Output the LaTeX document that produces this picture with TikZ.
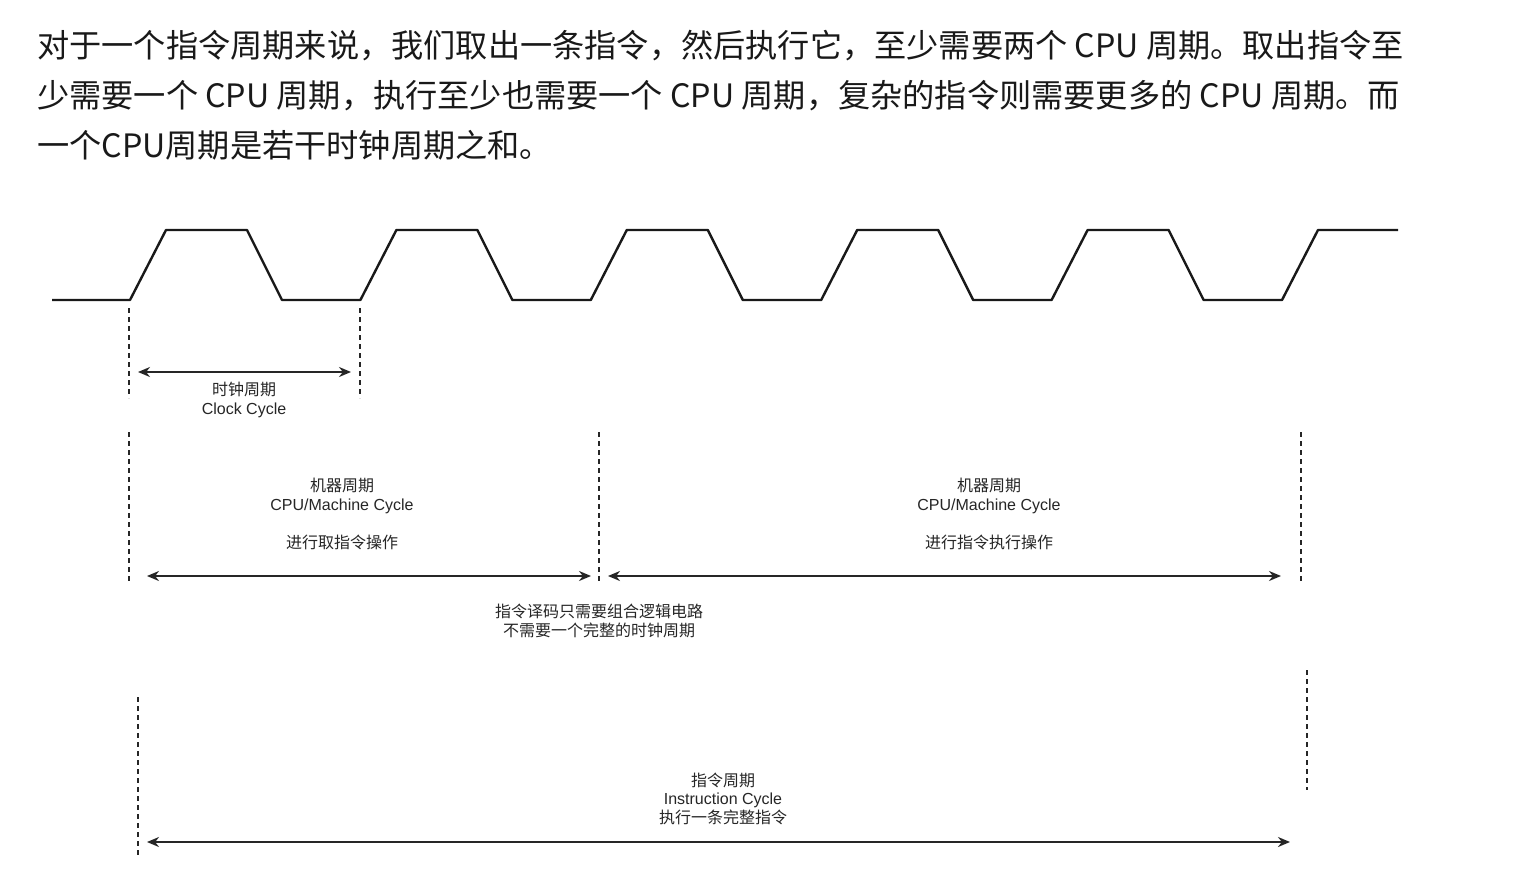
\documentclass[tikz,border=0pt]{standalone}
\usepackage{fontspec}
\setmainfont{Noto Sans CJK SC}
\newfontfamily\latf{Liberation Sans}
\usetikzlibrary{arrows.meta}
\tikzset{
  wave/.style={line width=2.4pt, line join=round, black!90},
  guide/.style={line width=1.9pt, black!85, dash pattern=on 5pt off 4pt},
  span/.style={line width=1.9pt, black!85, {Stealth[length=12pt,width=10pt]}-{Stealth[length=12pt,width=10pt]}},
  lbl/.style={align=center, font=\fontsize{16}{19}\selectfont, text=black!85, inner sep=0pt},
  head/.style={anchor=base west, font=\fontsize{32.2}{36}\selectfont, text=black!90, inner sep=0pt}
}
\begin{document}
\begin{tikzpicture}[x=1pt,y=-1pt]
\useasboundingbox[fill=white] (0,0) rectangle (1528,870);
% header text
\node[head] (h1) at (37,57) {对于一个指令周期来说，我们取出一条指令，然后执行它，至少需要两个 CPU 周期。取出指令至};
\node[head] (h2) at (37,107) {少需要一个 CPU 周期，执行至少也需要一个 CPU 周期，复杂的指令则需要更多的 CPU 周期。而};
\node[head] (h3) at (37,157) {一个CPU周期是若干时钟周期之和。};
% clock waveform
\draw[wave] (52,300) foreach \k in {0,...,4} { -- ({130+230.4*\k},300) -- ({166+230.4*\k},230) -- ({247+230.4*\k},230) -- ({282+230.4*\k},300) } -- (1282,300) -- (1318,230) -- (1398,230);
% clock cycle
\coordinate (c1t) at (129,308); \coordinate (c1b) at (129,398);
\coordinate (c2t) at (360,308); \coordinate (c2b) at (360,398);
\draw[guide] (c1t) -- (c1b);
\draw[guide] (c2t) -- (c2b);
\coordinate (ca) at (138,372); \coordinate (cb) at (351,372);
\draw[span] (ca) -- (cb);
\node[lbl] (clk) at (244,399.5) {时钟周期\\{\latf Clock Cycle}};
% machine cycles
\coordinate (m1t) at (129,432); \coordinate (m1b) at (129,584);
\coordinate (m2t) at (599,432); \coordinate (m2b) at (599,584);
\coordinate (m3t) at (1301,432); \coordinate (m3b) at (1301,584);
\draw[guide] (m1t) -- (m1b);
\draw[guide] (m2t) -- (m2b);
\draw[guide] (m3t) -- (m3b);
\coordinate (ma) at (147,576); \coordinate (mb) at (591,576);
\coordinate (mc) at (608,576); \coordinate (md) at (1281,576);
\draw[span] (ma) -- (mb);
\draw[span] (mc) -- (md);
\node[lbl] (mach1) at (342,495.5) {机器周期\\{\latf CPU/Machine Cycle}};
\node[lbl] (op1) at (342,542) {进行取指令操作};
\node[lbl] (mach2) at (989,495.5) {机器周期\\{\latf CPU/Machine Cycle}};
\node[lbl] (op2) at (989,542) {进行指令执行操作};
\node[lbl] (dec) at (599,620.5) {指令译码只需要组合逻辑电路\\不需要一个完整的时钟周期};
% instruction cycle
\coordinate (i1t) at (138,697); \coordinate (i1b) at (138,855);
\coordinate (i2t) at (1307,670); \coordinate (i2b) at (1307,790);
\draw[guide] (i1t) -- (i1b);
\draw[guide] (i2t) -- (i2b);
\coordinate (ia) at (147,842); \coordinate (ib) at (1290,842);
\draw[span] (ia) -- (ib);
\node[lbl, font=\fontsize{16}{18.5}\selectfont] (ins) at (723,798.5) {指令周期\\{\latf Instruction Cycle}\\执行一条完整指令};
\end{tikzpicture}
\end{document}
